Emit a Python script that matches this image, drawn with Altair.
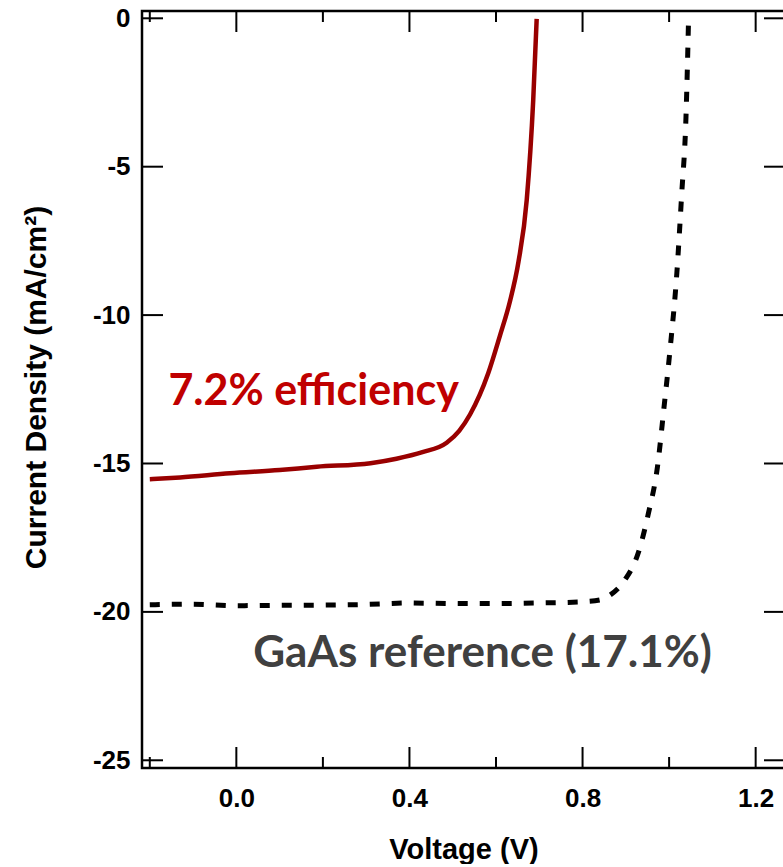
import altair as alt
import pandas as pd

# 7.2% efficiency cell (V, mA/cm^2)
v_cell = [-0.20, -0.13, -0.015, 0.10, 0.186, 0.31, 0.37, 0.43, 0.486, 0.515, 0.54, 0.582, 0.609, 0.632, 0.652, 0.671, 0.686, 0.694]
j_cell = [-15.53, -15.47, -15.33, -15.22, -15.11, -14.99, -14.84, -14.62, -14.30, -13.90, -13.35, -11.96, -10.70, -9.55, -8.20, -6.12, -2.76, -0.02]

# GaAs reference (17.1%)
v_ref = [-0.20, -0.10, 0.0, 0.10, 0.20, 0.30, 0.40, 0.50, 0.60, 0.70, 0.80, 0.84, 0.863, 0.898, 0.929, 0.952, 0.973, 0.988, 1.002, 1.018, 1.029, 1.039, 1.045]
j_ref = [-19.76, -19.74, -19.79, -19.78, -19.77, -19.75, -19.70, -19.72, -19.72, -19.70, -19.66, -19.60, -19.44, -18.92, -18.00, -16.69, -15.12, -13.14, -11.19, -8.56, -5.94, -3.32, 0.0]

x_major = [0.0, 0.4, 0.8, 1.2]
x_minor = [-0.2, 0.2, 0.6, 1.0]
y_major = [0, -5, -10, -15, -20, -25]

ann1_text = ["7.2% efficiency"]
ann1_v = [-0.157]
ann1_j = [-13.03]
ann2_text = ["GaAs reference (17.1%)"]
ann2_v = [0.039]
ann2_j = [-21.87]

W, H = 643, 757
xs = alt.Scale(domain=[-0.218, 1.2678], nice=False, zero=False)
ys = alt.Scale(domain=[-25.26, 0.246], nice=False, zero=False)

FONT = "Liberation Sans"

x_axis = alt.Axis(values=x_major, format=".1f", ticks=False, domain=False, grid=False,
                  labelPadding=17, title="Voltage (V)", titleY=67, titleBaseline="top",
                  titleFontSize=29)
y_axis = alt.Axis(values=y_major, format="d", ticks=False, domain=False, grid=False,
                  labelPadding=12, labelExpr="replace(datum.label, '\u2212', '-')",
                  title="Current Density (mA/cm²)", titleX=-97,
                  titleY=376, titleBaseline="alphabetic", titleAngle=-90, titleFontSize=30)


def X():
    return alt.X("V:Q", scale=xs, axis=x_axis)


def Y():
    return alt.Y("J:Q", scale=ys, axis=y_axis)


df_cell = pd.DataFrame({"V": v_cell, "J": j_cell})
df_ref = pd.DataFrame({"V": v_ref, "J": j_ref})

ref_line = alt.Chart(df_ref).mark_line(color="black", strokeWidth=5, strokeDash=[10, 12],
                                       strokeCap="butt", interpolate="monotone").encode(x=X(), y=Y())
cell_line = alt.Chart(df_cell).mark_line(color="#990000", strokeWidth=4.5,
                                         interpolate="monotone").encode(x=X(), y=Y())


def xticks(vals, y0, y1):
    return alt.Chart(pd.DataFrame({"V": vals})).mark_rule(color="black", strokeWidth=2).encode(
        x=X(), y=alt.value(y0), y2=alt.value(y1))


def yticks(vals, x0, x1):
    return alt.Chart(pd.DataFrame({"J": vals})).mark_rule(color="black", strokeWidth=2).encode(
        y=Y(), x=alt.value(x0), x2=alt.value(x1))


ticks = [
    xticks(x_major, H, H - 21), xticks(x_minor, H, H - 11),
    xticks(x_major, 0, 21), xticks(x_minor, 0, 11),
    yticks(y_major, 0, 21), yticks(y_major, W, W - 21),
]

ann1 = alt.Chart(pd.DataFrame({"V": ann1_v, "J": ann1_j, "t": ann1_text})).mark_text(
    align="left", baseline="alphabetic", font="Lato", fontWeight="bold", fontSize=43, color="#C00000"
).encode(x=X(), y=Y(), text="t:N")

ann2 = alt.Chart(pd.DataFrame({"V": ann2_v, "J": ann2_j, "t": ann2_text})).mark_text(
    align="left", baseline="alphabetic", font="Lato", fontWeight="bold", fontSize=44, color="#404040"
).encode(x=X(), y=Y(), text="t:N")

chart = alt.layer(ref_line, cell_line, *ticks, ann1, ann2).properties(
    width=W, height=H,
    padding={"left": 142, "top": 11, "right": -2, "bottom": 96},
    autosize=alt.AutoSizeParams(type="none"),
    background="white",
).configure_view(stroke="black", strokeWidth=2.5).configure_axis(
    labelFont=FONT, labelFontWeight="bold", labelFontSize=26, labelColor="black",
    titleFont=FONT, titleFontWeight="bold", titleColor="black",
)

chart.save("out.html", embed_options={"renderer": "svg", "actions": False})
